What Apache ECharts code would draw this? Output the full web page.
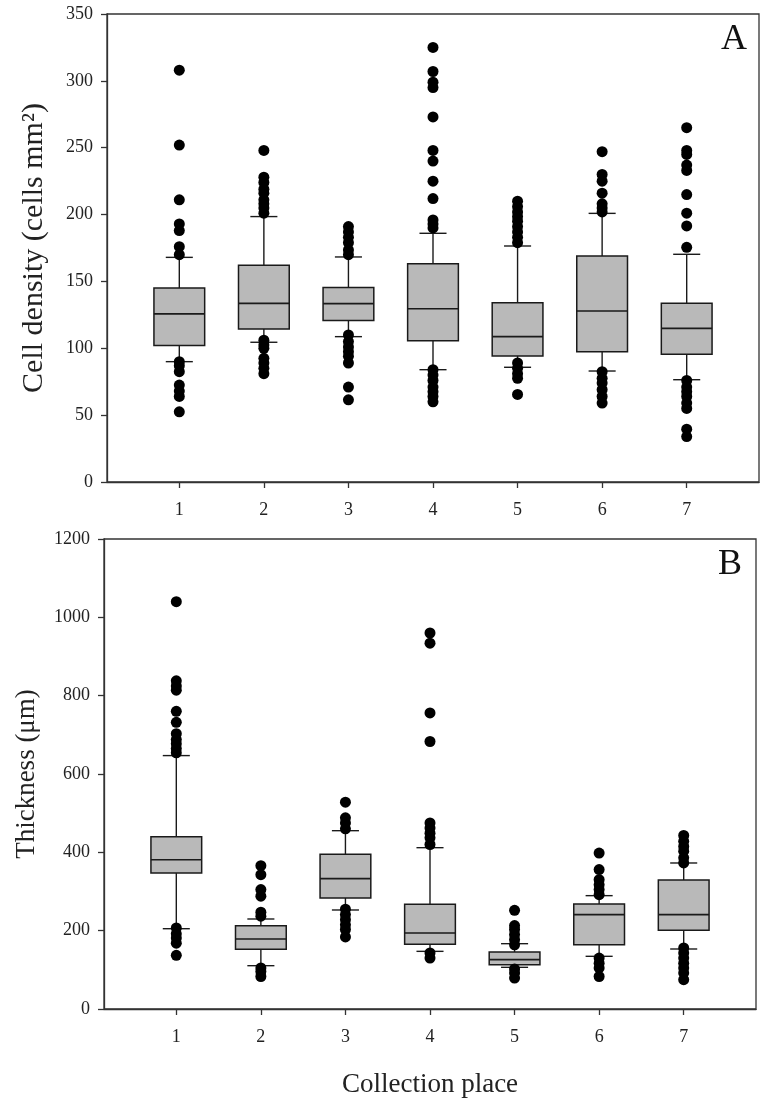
<!DOCTYPE html>
<html><head><meta charset="utf-8">
<script src="https://cdn.jsdelivr.net/npm/echarts@6/dist/echarts.min.js"></script>
<style>html,body{margin:0;padding:0;background:#fff}#c{width:766px;height:1109px}</style>
</head><body><div id="c"></div>
<script>
// ---- data ----
const places = [1, 2, 3, 4, 5, 6, 7];
const placeLabels = ['1', '2', '3', '4', '5', '6', '7'];
const densityTicks = [0, 50, 100, 150, 200, 250, 300, 350];
const thicknessTicks = [0, 200, 400, 600, 800, 1000, 1200];

// [lower whisker, Q1, median, Q3, upper whisker]
const densityBoxes = [
  [90, 102, 125.7, 145, 168],
  [104.5, 114.4, 133.6, 162.1, 198.5],
  [108.7, 120.7, 133.4, 145.4, 168.3],
  [84, 105.7, 129.6, 163.3, 186],
  [85.8, 94.2, 108.7, 134.1, 176.5],
  [83, 97.5, 127.9, 169, 200.9],
  [76.5, 95.5, 114.9, 133.6, 170.3]
];
const densityOutliers = [
  [308, 252, 211, 193, 188, 176, 170, 90, 87, 82.5, 72.5, 68, 64, 52.5],
  [248, 228, 224, 219, 216, 211, 208, 205, 201, 106, 102.5, 100, 92.5, 89, 85, 81],
  [191, 187, 183, 179, 173.5, 170, 110, 105, 101, 97.5, 94, 89, 71, 61.5],
  [325, 307, 299, 295, 273, 248, 240, 225, 212, 196, 193, 190, 84, 80, 76, 71, 67.5, 64, 60],
  [210, 206, 202, 198.5, 195, 191, 187, 183, 179, 89, 85, 81, 77.5, 65.5],
  [247, 230, 225, 216, 208, 205, 202, 82.5, 77.5, 74, 69, 64, 59],
  [265, 248, 245, 237, 233, 215, 201, 191.5, 175.5, 76, 71, 67.5, 64, 59, 55, 39.5, 34]
];
const thicknessBoxes = [
  [205, 347, 381, 440, 647],
  [110.6, 152.3, 178.7, 212.8, 229.8],
  [252.8, 283.4, 332.8, 394.9, 455.3],
  [147.2, 165.1, 194, 267.2, 411.9],
  [106.4, 113.2, 126, 145.5, 166.8],
  [134.5, 164.3, 240.9, 268.1, 289.4],
  [153.2, 200.9, 240.9, 329.4, 372.8]
];
const thicknessOutliers = [
  [1040, 838, 825, 814, 760, 732, 703, 688, 677, 665, 654, 207, 192, 181, 168, 137],
  [366, 343, 305, 288, 247, 237, 105, 96, 83],
  [528, 488, 475, 460, 255, 241, 228, 215, 203, 184],
  [960, 934, 756, 683, 475, 462, 449, 437, 420, 143, 130],
  [252, 213, 203, 190, 177, 164, 102, 92, 79],
  [398, 356, 330, 317, 305, 292, 130, 117, 105, 83],
  [443, 428, 415, 403, 386, 373, 156, 143, 130, 117, 105, 92, 75]
];

// ---- build ----
const FONT = '"Liberation Serif", "Times New Roman", serif';
const INK = '#1a1a1a';
const BOX_W = 0.6;   // in x units
const CAP_W = 0.32;

function boxRows(boxes) { return boxes.map((b, i) => [places[i]].concat(b)); }
function outlierPts(outs) {
  const pts = [];
  outs.forEach((arr, i) => arr.forEach(v => pts.push([places[i], v])));
  return pts;
}
function renderBox(params, api) {
  const x = api.value(0);
  const lo = api.coord([x, api.value(1)]);
  const q1 = api.coord([x, api.value(2)]);
  const md = api.coord([x, api.value(3)]);
  const q3 = api.coord([x, api.value(4)]);
  const hi = api.coord([x, api.value(5)]);
  const bw = api.size([BOX_W, 0])[0];
  const cw = api.size([CAP_W, 0])[0];
  const cx = lo[0];
  const ls = { stroke: INK, lineWidth: 1.4, fill: null };
  return {
    type: 'group',
    children: [
      { type: 'line', shape: { x1: cx, y1: hi[1], x2: cx, y2: q3[1] }, style: ls },
      { type: 'line', shape: { x1: cx, y1: q1[1], x2: cx, y2: lo[1] }, style: ls },
      { type: 'line', shape: { x1: cx - cw / 2, y1: hi[1], x2: cx + cw / 2, y2: hi[1] }, style: ls },
      { type: 'line', shape: { x1: cx - cw / 2, y1: lo[1], x2: cx + cw / 2, y2: lo[1] }, style: ls },
      { type: 'rect', shape: { x: cx - bw / 2, y: q3[1], width: bw, height: q1[1] - q3[1] },
        style: { fill: '#b9b9b9', stroke: INK, lineWidth: 1.5 } },
      { type: 'line', shape: { x1: cx - bw / 2, y1: md[1], x2: cx + bw / 2, y2: md[1] }, style: { stroke: INK, lineWidth: 1.6 } }
    ]
  };
}

function xAxisDef(gridIndex, name) {
  return {
    type: 'value', gridIndex, min: 0.145, max: 7.855,
    splitLine: { show: false },
    axisLine: { show: true, onZero: false, lineStyle: { color: '#333', width: 1.3 } },
    axisTick: { show: true, length: 6, lineStyle: { color: '#333', width: 1.3 }, customValues: places },
    axisLabel: { customValues: places, formatter: v => placeLabels[places.indexOf(v)] || '',
      margin: 19, fontFamily: FONT, fontSize: 18, color: '#222' },
    name: name || '', nameLocation: 'middle', nameGap: 62,
    nameTextStyle: { fontFamily: FONT, fontSize: 27, color: '#222' }
  };
}
function yAxisDef(gridIndex, ticks, name, gap, size) {
  return {
    type: 'value', gridIndex, min: ticks[0], max: ticks[ticks.length - 1],
    interval: ticks[1] - ticks[0],
    splitLine: { show: false },
    axisLine: { show: true, onZero: false, lineStyle: { color: '#333', width: 1.3 } },
    axisTick: { show: true, length: 6, lineStyle: { color: '#333', width: 1.3 } },
    axisLabel: { margin: 14, fontFamily: FONT, fontSize: 18, color: '#222', formatter: v => String(v) },
    name, nameLocation: 'middle', nameGap: gap, nameRotate: 90,
    nameTextStyle: { fontFamily: FONT, fontSize: size, color: '#222' }
  };
}

const option = {
  backgroundColor: '#fff',
  animation: false,
  grid: [
    { left: 107, top: 14, width: 652, height: 468, show: true, borderColor: '#333', borderWidth: 1.3, backgroundColor: 'transparent' },
    { left: 104, top: 539, width: 652, height: 470, show: true, borderColor: '#333', borderWidth: 1.3, backgroundColor: 'transparent' }
  ],
  xAxis: [xAxisDef(0), xAxisDef(1, 'Collection place')],
  yAxis: [
    yAxisDef(0, densityTicks, 'Cell density (cells mm²)', 58, 30),
    yAxisDef(1, thicknessTicks, 'Thickness (μm)', 64, 27)
  ],
  graphic: [
    { type: 'text', x: 734, y: 40, style: { text: 'A', font: '36px ' + FONT, fill: '#111', align: 'center', verticalAlign: 'middle' } },
    { type: 'text', x: 730, y: 565, style: { text: 'B', font: '36px ' + FONT, fill: '#111', align: 'center', verticalAlign: 'middle' } }
  ],
  series: [
    { type: 'custom', xAxisIndex: 0, yAxisIndex: 0, renderItem: renderBox, data: boxRows(densityBoxes),
      encode: { x: 0, y: [1, 2, 3, 4, 5] }, z: 2 },
    { type: 'scatter', xAxisIndex: 0, yAxisIndex: 0, data: outlierPts(densityOutliers), symbolSize: 11,
      itemStyle: { color: '#000', opacity: 1 }, z: 3 },
    { type: 'custom', xAxisIndex: 1, yAxisIndex: 1, renderItem: renderBox, data: boxRows(thicknessBoxes),
      encode: { x: 0, y: [1, 2, 3, 4, 5] }, z: 2 },
    { type: 'scatter', xAxisIndex: 1, yAxisIndex: 1, data: outlierPts(thicknessOutliers), symbolSize: 11,
      itemStyle: { color: '#000', opacity: 1 }, z: 3 }
  ]
};
echarts.init(document.getElementById('c')).setOption(option);
</script>
</body></html>
